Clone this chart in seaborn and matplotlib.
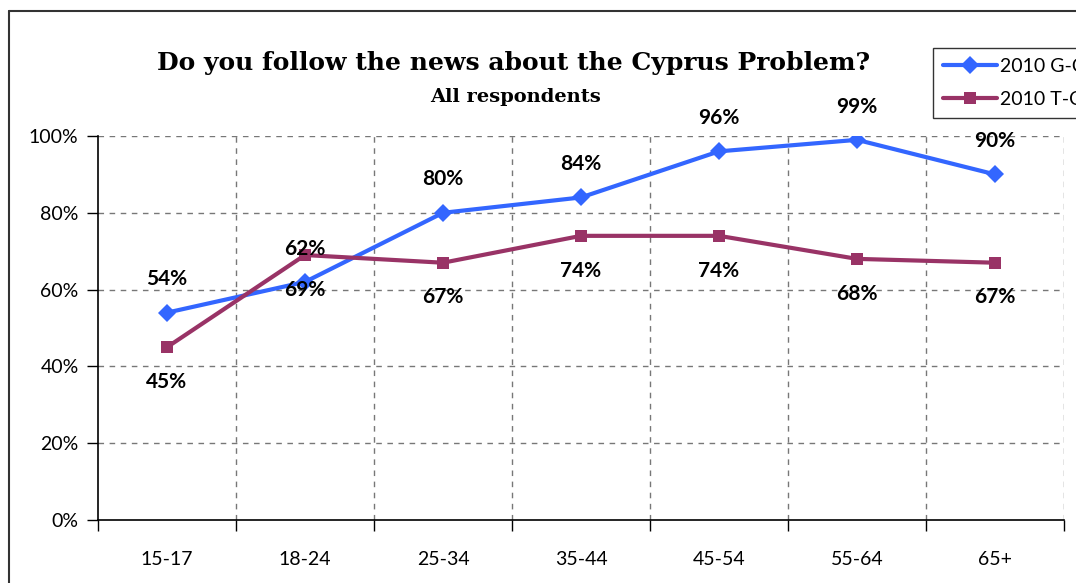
import pandas as pd
import matplotlib
matplotlib.use("Agg")
import matplotlib.pyplot as plt
from matplotlib.lines import Line2D
import seaborn as sns

# chart data
age_groups = ["15-17", "18-24", "25-34", "35-44", "45-54", "55-64", "65+"]
gc_values = [54, 62, 80, 84, 96, 99, 90]
tc_values = [45, 69, 67, 74, 74, 68, 67]
series_names = ["2010 G-C", "2010 T-C"]
y_ticks = [0, 20, 40, 60, 80, 100]

df = pd.DataFrame({
    "age": age_groups * 2,
    "value": gc_values + tc_values,
    "series": [series_names[0]] * len(age_groups) + [series_names[1]] * len(age_groups),
})

sns.set_style("white", {"text.color": "black", "xtick.color": "black",
                        "ytick.color": "black", "axes.labelcolor": "black",
                        "xtick.bottom": True, "ytick.left": True})
plt.rcParams["font.family"] = ["Lato", "DejaVu Sans"]

colors = {series_names[0]: "#3366FF", series_names[1]: "#993366"}
markers = {series_names[0]: "D", series_names[1]: "s"}

fig = plt.figure(figsize=(10.76, 5.83), dpi=100)
ax = fig.add_axes([98 / 1076, 1 - 520 / 583, (1064 - 98) / 1076, (520 - 136) / 583])

sns.lineplot(data=df, x="age", y="value", hue="series", style="series",
             palette=colors, markers=markers, dashes=False, sort=False,
             linewidth=3, markersize=9, markeredgewidth=0, ax=ax, legend=False)

ax.set_xlim(-0.5, len(age_groups) - 0.5)
ax.set_ylim(0, 100)
ax.set_yticks(y_ticks)
ax.set_yticklabels([f"{v}%" for v in y_ticks])
ax.set_xticks(range(len(age_groups)))
ax.set_xticklabels(age_groups)
ax.set_xlabel("")
ax.set_ylabel("")

# gridlines at category boundaries, dashed like Excel
for b in [i + 0.5 for i in range(len(age_groups))]:
    ax.axvline(b, color="#777777", lw=1, ls=(0, (4, 4)), zorder=0)
for v in y_ticks[1:]:
    ax.axhline(v, color="#777777", lw=1, ls=(0, (4, 4)), zorder=0)

# boundary tick marks
ax.set_xticks([i - 0.5 for i in range(len(age_groups) + 1)], minor=True)
ax.tick_params(axis="x", which="major", length=0, pad=22, labelsize=14)
ax.tick_params(axis="x", which="minor", bottom=True, length=8, width=1,
               color="black", direction="out")
ax.tick_params(axis="y", which="major", left=True, length=8, width=1, color="black",
               direction="out", pad=6, labelsize=14)
for s in ["top", "right"]:
    ax.spines[s].set_visible(False)
for s in ["left", "bottom"]:
    ax.spines[s].set_color("black")
    ax.spines[s].set_linewidth(1.2)

# data labels
for i, v in enumerate(gc_values):
    ax.annotate(f"{v}%", (i, v), xytext=(0, 24), textcoords="offset points",
                ha="center", va="center", fontsize=15, fontweight="bold")
for i, v in enumerate(tc_values):
    ax.annotate(f"{v}%", (i, v), xytext=(0, -25), textcoords="offset points",
                ha="center", va="center", fontsize=15, fontweight="bold")

# titles
fig.text(514 / 1076, 1 - 63 / 583, "Do you follow the news about the Cyprus Problem?",
         ha="center", va="center", fontsize=18, fontweight="bold",
         family=["DejaVu Serif"])
fig.text(515 / 1076, 1 - 97 / 583, "All respondents", ha="center", va="center",
         fontsize=14, fontweight="bold", family=["DejaVu Serif"])

# legend (clipped by the right edge like the reference)
handles = [Line2D([], [], color=colors[n], marker=markers[n], lw=3, ms=9, mew=0)
           for n in series_names]
leg = fig.legend(handles, series_names, loc="upper left",
                 bbox_to_anchor=(933 / 1076, 1 - 48 / 583), borderaxespad=0,
                 frameon=True, fancybox=False, edgecolor="black", fontsize=14,
                 handlelength=2.8, borderpad=0.5, labelspacing=0.85, handletextpad=0.15)
leg.get_frame().set_linewidth(1)

# outer chart border
fig.add_artist(Line2D([9 / 1076, 9 / 1076], [0, 1 - 11 / 583], color="#333333", lw=1.5))
fig.add_artist(Line2D([9 / 1076, 1], [1 - 11 / 583, 1 - 11 / 583], color="#333333", lw=1.5))

fig.savefig("out.png", dpi=100)
